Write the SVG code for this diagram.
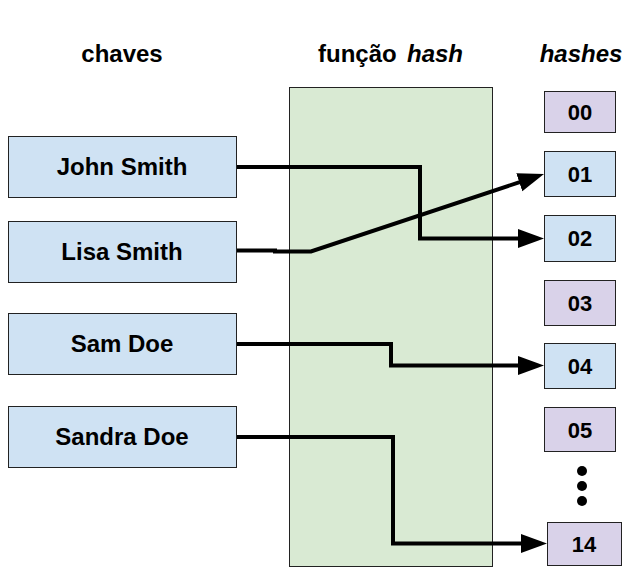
<svg xmlns="http://www.w3.org/2000/svg" width="634" height="582" viewBox="0 0 634 582">
<style>
  .t{font-family:"Liberation Sans",Arial,sans-serif;font-weight:bold;font-size:24px;fill:#000;text-anchor:middle}
  .h{font-size:22px}
  .i{font-style:italic}
  .key{fill:#cfe2f3;stroke:#222;stroke-width:1}
  .hb{fill:#cfe2f3;stroke:#222;stroke-width:1}
  .hp{fill:#d9d2e9;stroke:#222;stroke-width:1}
  .con{fill:none;stroke:#000;stroke-width:4;stroke-linejoin:miter}
</style>
<defs>
  <marker id="ah" markerUnits="userSpaceOnUse" markerWidth="28" markerHeight="20" refX="2" refY="9.5" orient="auto">
    <path d="M0,0 L26,9.5 L0,19 Z" fill="#000"/>
  </marker>
</defs>
<rect width="634" height="582" fill="#fff"/>
<g id="titles">
  <text class="t" x="122" y="62">chaves</text>
  <text class="t" style="text-anchor:start" y="62"><tspan x="318">função</tspan><tspan class="i" x="407">hash</tspan></text>
  <text class="t i" x="581" y="62">hashes</text>
</g>
<g id="hashfn"><rect x="289.5" y="87.5" width="203" height="479" fill="#d9ead3" stroke="#222" stroke-width="1"/></g>
<g id="connectors">
  <path class="con" d="M236.5,167 L420,167 L420,238.5 L520,238.5" marker-end="url(#ah)"/>
  <path class="con" d="M236.5,250.5 L275,250.5 L275,251.5 L311,251.5 L521.2,181.6" marker-end="url(#ah)"/>
  <path class="con" d="M236.5,344 L391,344 L391,365.5 L520,365.5" marker-end="url(#ah)"/>
  <path class="con" d="M236.5,437 L393,437 L393,543.5 L523,543.5" marker-end="url(#ah)"/>
</g>
<g id="key-john"><rect class="key" x="8.5" y="136.5" width="228" height="61"/><text class="t" x="122" y="175">John Smith</text></g>
<g id="key-lisa"><rect class="key" x="8.5" y="221.5" width="228" height="61"/><text class="t" x="122" y="260">Lisa Smith</text></g>
<g id="key-sam"><rect class="key" x="8.5" y="313.5" width="228" height="61"/><text class="t" x="122" y="352">Sam Doe</text></g>
<g id="key-sandra"><rect class="key" x="8.5" y="406.5" width="228" height="61"/><text class="t" x="122" y="445">Sandra Doe</text></g>
<g id="h00"><rect class="hp" x="544.5" y="91.5" width="71" height="41"/><text class="t h" x="580" y="120">00</text></g>
<g id="h01"><rect class="hb" x="544.5" y="151.5" width="71" height="45"/><text class="t h" x="580" y="182">01</text></g>
<g id="h02"><rect class="hb" x="544.5" y="215.5" width="71" height="46"/><text class="t h" x="580" y="246">02</text></g>
<g id="h03"><rect class="hp" x="544.5" y="280.5" width="71" height="45"/><text class="t h" x="580" y="311">03</text></g>
<g id="h04"><rect class="hb" x="544.5" y="343.5" width="71" height="45"/><text class="t h" x="580" y="374">04</text></g>
<g id="h05"><rect class="hp" x="544.5" y="407.5" width="71" height="44"/><text class="t h" x="580" y="438">05</text></g>
<g id="dots" fill="#000">
  <circle cx="582" cy="471" r="5"/><circle cx="582" cy="486" r="5"/><circle cx="582" cy="501" r="5"/>
</g>
<g id="h14"><rect class="hp" x="547.5" y="522.5" width="74" height="43"/><text class="t h" x="584" y="552">14</text></g>
</svg>
